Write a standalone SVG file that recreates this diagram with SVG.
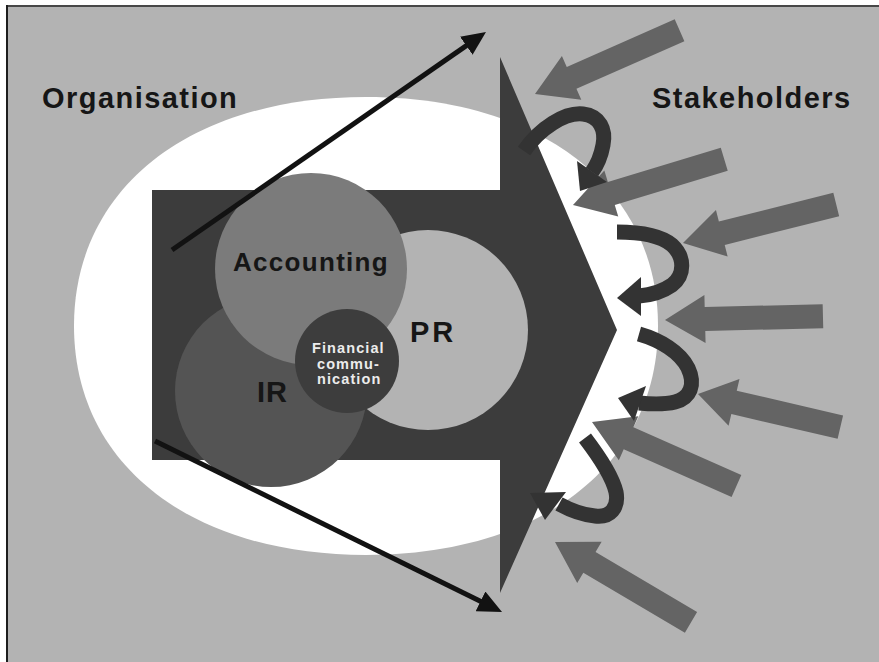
<svg xmlns="http://www.w3.org/2000/svg" width="879" height="662" viewBox="0 0 879 662">
  <defs>
    <style>
      .label { font-family: "Liberation Sans", Arial, Helvetica, sans-serif; font-weight: bold; fill: #161616; }
      .big { font-size: 29px; letter-spacing: 1.45px; }
      .fc { font-family: "Liberation Sans", Arial, Helvetica, sans-serif; font-weight: bold; font-size: 14.5px; letter-spacing: 1.1px; fill: #ececec; }
      .ray { fill: none; stroke: #121212; stroke-width: 5; marker-end: url(#tip); }
      .inflow { fill: #646464; }
      .curl { fill: none; stroke: #333333; stroke-width: 15; stroke-linecap: butt; }
      .curlhead { fill: #333333; }
    </style>
    <!-- black arrowhead for the two outward rays -->
    <marker id="tip" markerUnits="userSpaceOnUse" viewBox="0 0 24 22" markerWidth="24" markerHeight="22" refX="1" refY="11" orient="auto">
      <path d="M0,0 L24,11 L0,22 Z" fill="#121212"/>
    </marker>
    <!-- block arrow pointing at the origin, tail along +x -->
    <path id="blockArrow" d="M0,0 L40,-24 L40,-12 L158,-12 L158,12 L40,12 L40,24 Z"/>
  </defs>

  <!-- frame and backdrop -->
  <rect x="0" y="0" width="879" height="662" fill="#ffffff"/>
  <rect x="6" y="5" width="873" height="657" fill="#b3b3b3"/>
  <rect x="6" y="5" width="873" height="2" fill="#474747"/>
  <rect x="6" y="5" width="2" height="657" fill="#1e1e1e"/>

  <!-- organisation field -->
  <path id="organisation-field" d="M658,326 C658,464.4 541.2,555 366,555 C190.8,555 74,464.4 74,326 C74,187.6 190.8,97 366,97 C541.2,97 658,187.6 658,326 Z" fill="#ffffff"/>

  <!-- large outward arrow -->
  <g id="outward-arrow">
    <polygon points="152,190 500,190 500,57 617,330 500,593 500,460 152,460" fill="#3c3c3c"/>
  </g>

  <!-- overlapping disciplines -->
  <g id="pr">
    <circle cx="428" cy="330" r="100" fill="#b3b3b3"/>
    <text class="label" x="410" y="342" font-size="29" letter-spacing="3">PR</text>
  </g>
  <g id="ir">
    <circle cx="271" cy="391" r="96" fill="#545454"/>
    <text class="label" x="257" y="402" font-size="29" letter-spacing="1">IR</text>
  </g>
  <g id="accounting">
    <circle cx="311" cy="269" r="96" fill="#7b7b7b"/>
    <text class="label" x="233" y="271" font-size="26" letter-spacing="1.3">Accounting</text>
  </g>
  <g id="financial-communication">
    <circle cx="347" cy="361" r="52" fill="#3d3d3d"/>
    <text class="fc" x="312" y="353">Financial</text>
    <text class="fc" x="317" y="369">commu-</text>
    <text class="fc" x="317" y="384">nication</text>
  </g>

  <!-- side labels -->
  <g id="organisation">
    <text class="label big" x="42" y="108">Organisation</text>
  </g>
  <g id="stakeholders">
    <text class="label big" x="652" y="108">Stakeholders</text>
  </g>

  <g id="connectors">
    <!-- outward rays -->
    <line class="ray" x1="172" y1="250" x2="467.1" y2="45.1"/>
    <line class="ray" x1="155" y1="441" x2="481.4" y2="601.8"/>

    <!-- stakeholder inflows -->
    <use href="#blockArrow" class="inflow" transform="translate(535,94) rotate(-23.8)"/>
    <use href="#blockArrow" class="inflow" transform="translate(573,205) rotate(-16.8)"/>
    <use href="#blockArrow" class="inflow" transform="translate(683,243) rotate(-14.1)"/>
    <use href="#blockArrow" class="inflow" transform="translate(665,320) rotate(-1.4)"/>
    <use href="#blockArrow" class="inflow" transform="translate(698,394) rotate(13.1) scale(0.925,1)"/>
    <use href="#blockArrow" class="inflow" transform="translate(592,422) rotate(23.9)"/>
    <use href="#blockArrow" class="inflow" transform="translate(555,542) rotate(30.6)"/>

    <!-- feedback loops -->
    <path class="curl" d="M524,151 C540,128 565,112 583,114 C600,116 606,130 603,145 C601,156 597,165 592,172"/>
    <polygon class="curlhead" points="577,161 607,182 580,191"/>

    <path class="curl" d="M617,232 C640,232 660,235 672,245 C685,257 685,275 672,285 C662,292 652,295 639,296"/>
    <polygon class="curlhead" points="641,277 617,298 641,316"/>

    <path class="curl" d="M639,334 C660,340 680,352 688,368 C696,385 690,398 675,402 C663,405 650,404 639,403"/>
    <polygon class="curlhead" points="646,386 618,398 634,421"/>

    <path class="curl" d="M585,438 C598,455 612,475 616,492 C619,508 610,518 595,516 C583,515 570,510 559,504"/>
    <polygon class="curlhead" points="566,492 530,493 545,520"/>
  </g>
</svg>
